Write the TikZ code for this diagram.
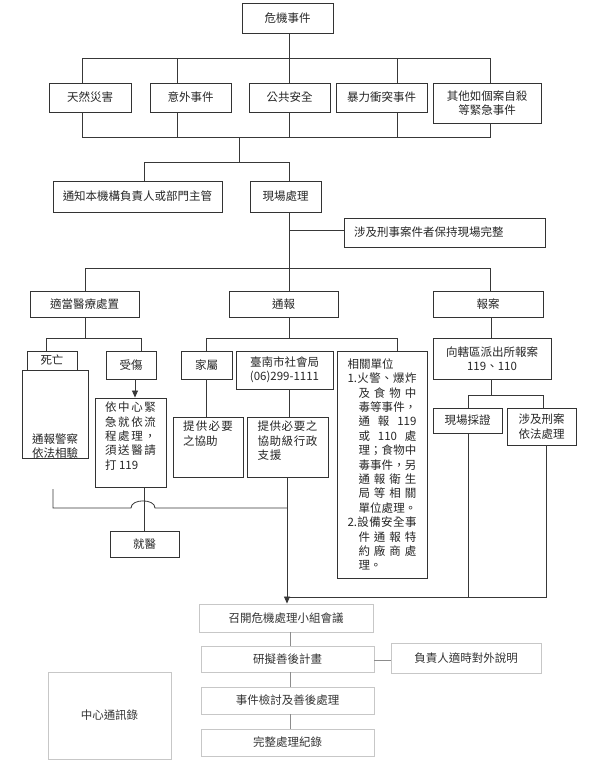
\documentclass[tikz,border=0pt]{standalone}
\usepackage{fontspec}
\setmainfont{Noto Sans CJK TC}
\usetikzlibrary{arrows.meta}
\begin{document}
\begin{tikzpicture}[x=1pt,y=-1pt,
  box/.style={draw=black!80, line width=0.9pt, inner sep=0pt, text=black!85,
    font=\fontsize{11.5}{14.4}\selectfont, align=center},
  lbox/.style={draw=black!22, line width=0.9pt, inner sep=0pt, text=black!80,
    font=\fontsize{11.5}{14.4}\selectfont, align=center},
  ln/.style={draw=black!78, line width=0.8pt},
  lln/.style={draw=black!45, line width=0.8pt},
  arr/.style={ln, -{Triangle[length=7pt,width=6pt]}},
]
\useasboundingbox (0,0) rectangle (594,764);

% ---- level 1 and 2
\node[box,minimum width=91pt,minimum height=30pt] (crisis) at (287.5,18) {危機事件};
\node[box,minimum width=82pt,minimum height=29pt] (t1) at (90,97.5) {天然災害};
\node[box,minimum width=81pt,minimum height=29pt] (t2) at (190.5,97.5) {意外事件};
\node[box,minimum width=81pt,minimum height=29pt] (t3) at (289.5,97.5) {公共安全};
\node[box,minimum width=91pt,minimum height=29pt] (t4) at (381.5,97.5) {暴力衝突事件};
\node[box,minimum width=108pt,minimum height=40pt] (t5) at (487,103) {其他如個案自殺\\等緊急事件};

\coordinate (ta) at (289,58);
\coordinate (ta1) at (82,58);
\coordinate (ta2) at (177,58);
\coordinate (ta4) at (397,58);
\coordinate (ta5) at (490,58);
\draw[ln] (crisis.south -| ta) -- (ta);
\draw[ln] (t1.north -| ta1) -- (ta1) -- (ta5) -- (t5.north -| ta5);
\draw[ln] (ta2) -- (t2.north -| ta2);
\draw[ln] (ta) -- (t3.north -| ta);
\draw[ln] (ta4) -- (t4.north -| ta4);

\coordinate (tb1) at (82,137);
\coordinate (tb2) at (177,137);
\coordinate (tb3) at (289,137);
\coordinate (tb4) at (397,137);
\coordinate (tb5) at (490,137);
\draw[ln] (t1.south -| tb1) -- (tb1) -- (tb5) -- (t5.south -| tb5);
\draw[ln] (t2.south -| tb2) -- (tb2);
\draw[ln] (t3.south -| tb3) -- (tb3);
\draw[ln] (t4.south -| tb4) -- (tb4);

% ---- level 3
\node[box,minimum width=169pt,minimum height=31pt] (notify) at (137.5,196.5) {通知本機構負責人或部門主管};
\node[box,minimum width=71pt,minimum height=31pt] (onsite) at (285.5,196.5) {現場處理};
\node[box,minimum height=29pt,text width=181pt,inner xsep=10pt,align=left] (keep) at (444.5,232.5) {涉及刑事案件者保持現場完整};

\coordinate (tc) at (239,137);
\coordinate (td) at (239,162);
\coordinate (td1) at (144,162);
\coordinate (td2) at (289,162);
\draw[ln] (tc) -- (td);
\draw[ln] (notify.north -| td1) -- (td1) -- (td2) -- (onsite.north -| td2);

\coordinate (tk) at (289,230);
\coordinate (te) at (289,268);
\coordinate (te1) at (85,268);
\coordinate (te3) at (490,268);
\draw[ln] (onsite.south -| te) -- (te);
\draw[ln] (tk) -- (keep.west |- tk);

% ---- level 4
\node[box,minimum width=109pt,minimum height=26pt] (med) at (84.5,304) {適當醫療處置};
\node[box,minimum width=109pt,minimum height=26pt] (report) at (283.5,304) {通報};
\node[box,minimum width=110pt,minimum height=26pt] (police) at (488,304) {報案};
\draw[ln] (med.north -| te1) -- (te1) -- (te3) -- (police.north -| te3);
\draw[ln] (te) -- (report.north -| te);

% ---- medical branch
\node[box,minimum width=50pt,minimum height=19pt] (death) at (52,360.5) {死亡};
\node[box,minimum width=66pt,minimum height=88pt] (deathbox) at (55,414) {};
\node[inner sep=0pt,text=black!85,font=\fontsize{11.5}{14.4}\selectfont,align=center] (deathtxt) at (55,446) {通報警察\\依法相驗};
\node[box,minimum width=50pt,minimum height=28pt] (injured) at (131,365) {受傷};
\node[box,inner xsep=10pt,inner ysep=4pt] (er) at (130.5,442.5) {\begin{minipage}[c][81pt][t]{51pt}\fontsize{11.5}{14.4}\selectfont\noindent
\makebox[51pt][s]{依\hfill 中\hfill 心\hfill 緊}\\
\makebox[51pt][s]{急\hfill 就\hfill 依\hfill 流}\\
\makebox[51pt][s]{程\hfill 處\hfill 理\hfill ，}\\
\makebox[51pt][s]{須\hfill 送\hfill 醫\hfill 請}\\
打 119\end{minipage}};
\node[box,minimum width=69pt,minimum height=26pt] (hosp) at (144.5,544) {就醫};

\coordinate (m0) at (85,338);
\coordinate (m1) at (46,338);
\coordinate (m2) at (141,338);
\draw[ln] (med.south -| m0) -- (m0);
\draw[ln] (death.north -| m1) -- (m1) -- (m2) -- (injured.north -| m2);
\coordinate (ia) at (135,379);
\draw[arr] (injured.south -| ia) -- (er.north -| ia);
\coordinate (hx) at (144,487);
\draw[ln] (er.south -| hx) -- (hosp.north -| hx);

\coordinate (j0) at (53,489);
\coordinate (j1) at (53,508);
\coordinate (jA) at (131,508);
\coordinate (jB) at (155,508);
\coordinate (j2) at (287,508);
\draw[ln] (j0) -- (j1) -- (jA) .. controls (131,498.5) and (155,498.5) .. (jB) -- (j2);

% ---- report branch
\node[box,minimum width=51pt,minimum height=28pt] (family) at (206.5,365) {家屬};
\node[box,minimum width=97pt,minimum height=38pt] (social) at (284.5,370) {臺南市社會局\\(06)299-1111};
\node[box,text width=69pt,inner xsep=10.5pt,minimum height=227pt,align=left] (related) at (382,464.5) {相關單位\\
\makebox[69pt][s]{1.\hfill 火\hfill 警\hfill 、\hfill 爆\hfill 炸}\\
\hspace*{11pt}\makebox[58pt][s]{及\hfill 食\hfill 物\hfill 中}\\
\hspace*{11pt}\makebox[58pt][s]{毒\hfill 等\hfill 事\hfill 件\hfill ，}\\
\hspace*{11pt}\makebox[58pt][s]{通\hfill 報\hfill 119}\\
\hspace*{11pt}\makebox[58pt][s]{或\hfill 110\hfill 處}\\
\hspace*{11pt}\makebox[58pt][s]{理\hfill ；\hfill 食\hfill 物\hfill 中}\\
\hspace*{11pt}\makebox[58pt][s]{毒\hfill 事\hfill 件\hfill ，\hfill 另}\\
\hspace*{11pt}\makebox[58pt][s]{通\hfill 報\hfill 衛\hfill 生}\\
\hspace*{11pt}\makebox[58pt][s]{局\hfill 等\hfill 相\hfill 關}\\
\hspace*{11pt}\makebox[58pt][s]{單\hfill 位\hfill 處\hfill 理\hfill 。}\\
\makebox[69pt][s]{2.\hfill 設\hfill 備\hfill 安\hfill 全\hfill 事}\\
\hspace*{11pt}\makebox[58pt][s]{件\hfill 通\hfill 報\hfill 特}\\
\hspace*{11pt}\makebox[58pt][s]{約\hfill 廠\hfill 商\hfill 處}\\
\hspace*{11pt}理。};
\node[box,inner xsep=10pt,inner ysep=4pt] (help1) at (208,447) {\begin{minipage}[c][52pt][t]{50pt}\fontsize{11.5}{14.4}\selectfont\noindent
\makebox[50pt][s]{提\hfill 供\hfill 必\hfill 要}\\
之協助\end{minipage}};
\node[box,inner xsep=10.5pt,inner ysep=4pt] (help2) at (287.5,447) {\begin{minipage}[c][52pt][t]{60pt}\fontsize{11.5}{14.4}\selectfont\noindent
\makebox[60pt][s]{提\hfill 供\hfill 必\hfill 要\hfill 之}\\
\makebox[60pt][s]{協\hfill 助\hfill 級\hfill 行\hfill 政}\\
支\hspace{1pt}援\end{minipage}};

\coordinate (r0) at (289,338);
\coordinate (r1) at (206,338);
\coordinate (r3) at (397,338);
\draw[ln] (report.south -| r0) -- (r0);
\draw[ln] (family.north -| r1) -- (r1) -- (r3) -- (related.north -| r3);
\draw[ln] (family.south -| r1) -- (help1.north -| r1);
\draw[ln] (social.south -| r0) -- (help2.north -| r0);

% ---- police branch
\node[box,minimum width=118pt,minimum height=41pt] (station) at (492,358.5) {向轄區派出所報案\\119、110};
\node[box,minimum width=69pt,minimum height=25pt] (evidence) at (467.5,420.5) {現場採證};
\node[box,minimum width=69pt,minimum height=37pt] (crim) at (541.5,426.5) {涉及刑案\\依法處理};
\coordinate (p0) at (491,338);
\coordinate (p1) at (491,395);
\coordinate (p2) at (468,395);
\coordinate (p3) at (543,395);
\draw[ln] (police.south -| p0) -- (station.north -| p0);
\draw[ln] (station.south -| p1) -- (p1);
\draw[ln] (evidence.north -| p2) -- (p2) -- (p3) -- (crim.north -| p3);

% ---- bottom part
\node[lbox,minimum width=174pt,minimum height=28pt] (meeting) at (286,618) {召開危機處理小組會議};
\node[lbox,minimum width=173pt,minimum height=26pt] (plan) at (287.5,659) {研擬善後計畫};
\node[lbox,minimum width=173pt,minimum height=27pt] (review) at (287.5,700.5) {事件檢討及善後處理};
\node[lbox,minimum width=173pt,minimum height=27pt] (record) at (287.5,742.5) {完整處理紀錄};
\node[lbox,minimum width=150pt,minimum height=30pt] (spokes) at (466,658) {負責人適時對外說明};
\node[lbox,minimum width=123pt,minimum height=87pt] (contacts) at (109.5,715.5) {中心通訊錄};

\coordinate (q0) at (287,597);
\coordinate (q1) at (468,597);
\coordinate (q2) at (546,597);
\draw[ln] (evidence.south -| q1) -- (q1);
\draw[ln] (crim.south -| q2) -- (q2) -- (q0);
\coordinate (ma) at (287,477);
\draw[arr] (help2.south -| ma) -- (meeting.north -| ma);

\coordinate (bl) at (290,640);
\coordinate (sp) at (380,660);
\draw[lln] (meeting.south -| bl) -- (plan.north -| bl);
\draw[lln] (plan.south -| bl) -- (review.north -| bl);
\draw[lln] (review.south -| bl) -- (record.north -| bl);
\draw[lln] (plan.east |- sp) -- (spokes.west |- sp);
\end{tikzpicture}
\end{document}
